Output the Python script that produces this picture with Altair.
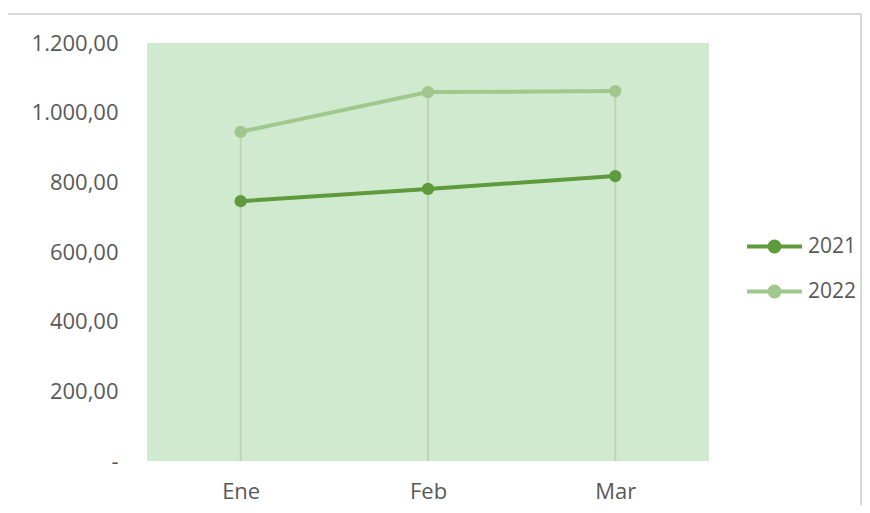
import altair as alt
import pandas as pd

months = ["Ene", "Feb", "Mar"]
series = ["2021", "2022"]
values_2021 = [746, 781, 818]
values_2022 = [945, 1059, 1062]
y_ticks = [0, 200, 400, 600, 800, 1000, 1200]
colors = ["#5f9a3c", "#a0c78c"]

rows = []
for m, a, b in zip(months, values_2021, values_2022):
    rows.append({"mes": m, "serie": "2021", "valor": a})
    rows.append({"mes": m, "serie": "2022", "valor": b})
df = pd.DataFrame(rows)
drop_df = pd.DataFrame({"mes": months,
                        "top": [max(a, b) for a, b in zip(values_2021, values_2022)],
                        "base": [0] * len(months)})

FONT = "Open Sans"
TXT = "#595959"

x_enc = alt.X("mes:N", sort=months, title=None,
              scale=alt.Scale(type="point", padding=0.5),
              axis=alt.Axis(labelFontSize=22, labelColor=TXT, labelFont=FONT,
                            domain=False, ticks=False, grid=False, labelPadding=20,
                            labelAngle=0))
y_scale = alt.Scale(domain=[0, 1200], nice=False)
y_axis = alt.Axis(values=y_ticks, labelFontSize=22, labelColor=TXT, labelFont=FONT,
                  domain=False, ticks=False, grid=False, labelPadding=29,
                  labelExpr="datum.value == 0 ? '-\u00a0\u00a0' : replace(replace(replace(format(datum.value, ',.2f'), ',', 'X'), '.', ','), 'X', '.')")

symbol_path = "M-1,0L1,0M-0.18,0A0.18,0.18,0,1,1,0.18,0A0.18,0.18,0,1,1,-0.18,0Z"

color_enc = alt.Color("serie:N", title=None,
                      scale=alt.Scale(domain=series, range=colors),
                      legend=alt.Legend(orient="none", legendX=598, legendY=174,
                                        symbolType=symbol_path, symbolSize=3025,
                                        symbolStrokeWidth=4, labelFontSize=21,
                                        labelColor=TXT, labelFont=FONT, labelOffset=4,
                                        rowPadding=2))

frame = alt.Chart(drop_df).mark_rect(fillOpacity=0, stroke="#d9d9d9", strokeWidth=1.5).encode(
    x=alt.value(-140), x2=alt.value(714), y=alt.value(-29), y2=alt.value(480))

drops = alt.Chart(drop_df).mark_rule(color="#bdd3b9", strokeWidth=2).encode(
    x=x_enc,
    y=alt.Y("top:Q", scale=y_scale, axis=y_axis, title=None),
    y2="base:Q")

lines = alt.Chart(df).mark_line(strokeWidth=4).encode(
    x=x_enc,
    y=alt.Y("valor:Q", scale=y_scale, axis=y_axis, title=None),
    color=color_enc)

points = alt.Chart(df).mark_point(filled=True, size=150, opacity=1).encode(
    x=x_enc,
    y=alt.Y("valor:Q", scale=y_scale, axis=y_axis, title=None),
    color=color_enc)

chart = alt.layer(frame, drops, lines, points).properties(
    width=562, height=418,
    autosize=alt.AutoSizeParams(type="none"),
    padding={"left": 139, "top": 35, "right": 153, "bottom": 44},
    background="white",
).configure_view(fill="#d0ead0", stroke=None)

chart.save("out.html", embed_options={"renderer": "svg", "actions": False})
